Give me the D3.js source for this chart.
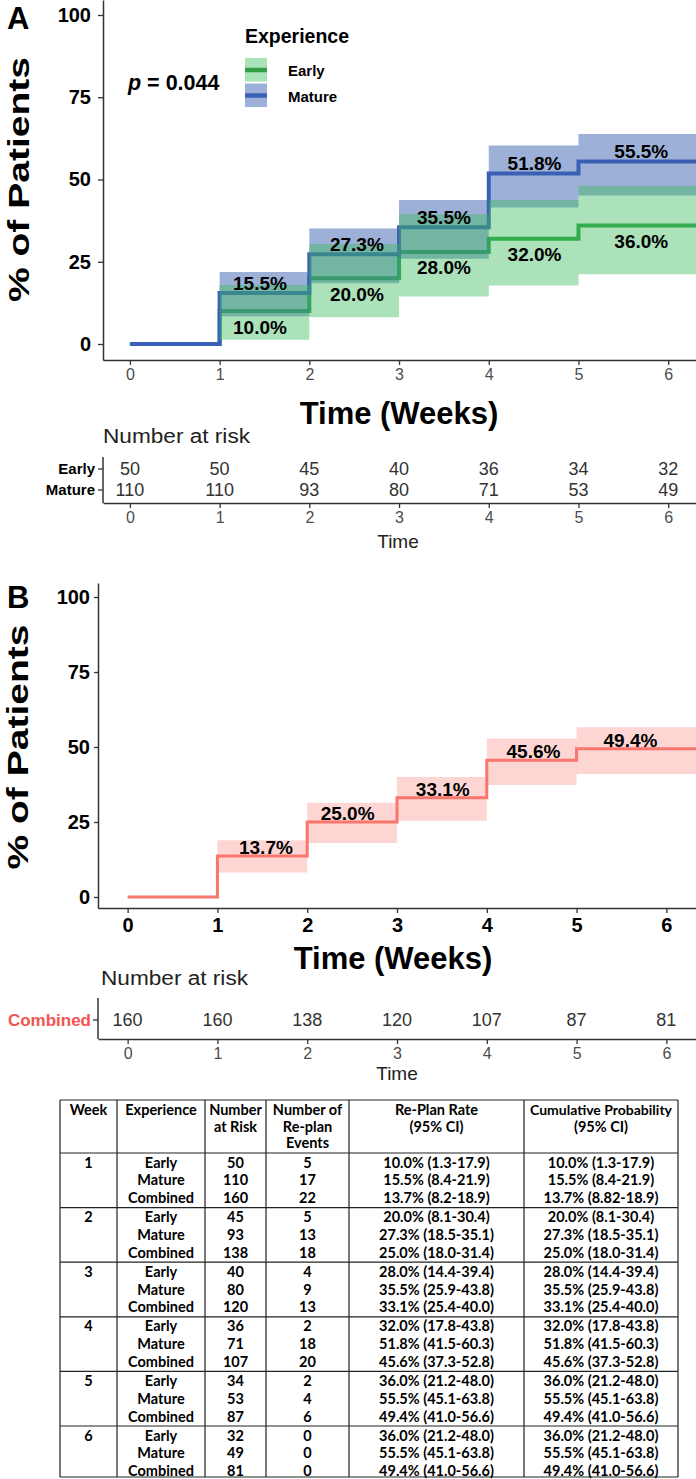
<!DOCTYPE html>
<html><head><meta charset="utf-8">
<script src="https://cdn.jsdelivr.net/npm/d3@7"></script>
<style>body{margin:0;background:#fff}svg{display:block}</style>
</head><body>
<script>
// ---------- data ----------
const weeks = [0, 1, 2, 3, 4, 5, 6];
const stepTimes = [0, 1, 2, 3, 4, 5];
const earlyPct = [0, 10.0, 20.0, 28.0, 32.0, 36.0];
const earlyLo = [0, 1.3, 8.1, 14.4, 17.8, 21.2];
const earlyHi = [0, 17.9, 30.4, 39.4, 43.8, 48.0];
const maturePct = [0, 15.5, 27.3, 35.5, 51.8, 55.5];
const matureLo = [0, 8.4, 18.5, 25.9, 41.5, 45.1];
const matureHi = [0, 21.9, 35.1, 43.8, 60.3, 63.8];
const combinedPct = [0, 13.7, 25.0, 33.1, 45.6, 49.4];
const combinedLo = [0, 8.2, 18.0, 25.4, 37.3, 41.0];
const combinedHi = [0, 18.9, 31.4, 40.0, 52.8, 56.6];
const yTicks = [0, 25, 50, 75, 100];
const labelWeeksA = [1.45, 2.53, 3.5, 4.51, 5.7];
const labelWeeksB = [1.54, 2.45, 3.51, 4.52, 5.6];
const riskRowsA = ["Early", "Mature"];
const riskEarly = [50, 50, 45, 40, 36, 34, 32];
const riskMature = [110, 110, 93, 80, 71, 53, 49];
const riskCombined = [160, 160, 138, 120, 107, 87, 81];
const pValueText = "0.044";

const tableHeaders = [["Week"], ["Experience"], ["Number", "at Risk"], ["Number of", "Re-plan", "Events"], ["Re-Plan Rate", "(95% CI)"], ["Cumulative Probability", "(95% CI)"]];
const tableWeeks = [1, 2, 3, 4, 5, 6];
const tableGroups = ["Early", "Mature", "Combined"];
const tableAtRisk = [[50, 110, 160], [45, 93, 138], [40, 80, 120], [36, 71, 107], [34, 53, 87], [32, 49, 81]];
const tableEvents = [[5, 17, 22], [5, 13, 18], [4, 9, 13], [2, 18, 20], [2, 4, 6], [0, 0, 0]];
const tableRate = [
  ["10.0% (1.3-17.9)", "15.5% (8.4-21.9)", "13.7% (8.2-18.9)"],
  ["20.0% (8.1-30.4)", "27.3% (18.5-35.1)", "25.0% (18.0-31.4)"],
  ["28.0% (14.4-39.4)", "35.5% (25.9-43.8)", "33.1% (25.4-40.0)"],
  ["32.0% (17.8-43.8)", "51.8% (41.5-60.3)", "45.6% (37.3-52.8)"],
  ["36.0% (21.2-48.0)", "55.5% (45.1-63.8)", "49.4% (41.0-56.6)"],
  ["36.0% (21.2-48.0)", "55.5% (45.1-63.8)", "49.4% (41.0-56.6)"]];
const tableCum = [
  ["10.0% (1.3-17.9)", "15.5% (8.4-21.9)", "13.7% (8.82-18.9)"],
  ["20.0% (8.1-30.4)", "27.3% (18.5-35.1)", "25.0% (18.0-31.4)"],
  ["28.0% (14.4-39.4)", "35.5% (25.9-43.8)", "33.1% (25.4-40.0)"],
  ["32.0% (17.8-43.8)", "51.8% (41.5-60.3)", "45.6% (37.3-52.8)"],
  ["36.0% (21.2-48.0)", "55.5% (45.1-63.8)", "49.4% (41.0-56.6)"],
  ["36.0% (21.2-48.0)", "55.5% (45.1-63.8)", "49.4% (41.0-56.6)"]];

// ---------- styles ----------
const C = {
  earlyLine: "#2f9e44", earlyBand: "#3dbb5e",
  matureLine: "#3a5fb6", matureBand: "#3b62b0",
  combLine: "#f8766d", combBand: "#f8766d", combText: "#f2554f",
  axis: "#333", tickTxt: "#4d4d4d"
};

const W = 696, H = 1479;
const svg = d3.select("body").append("svg").attr("width", W).attr("height", H)
  .style("font-family", "'Liberation Sans', Arial, sans-serif");

function txt(g, x, cy, s, o = {}) {
  const fs = o.size || 16;
  const t = g.append("text").attr("x", x).attr("y", cy + 0.358 * fs)
    .attr("font-size", fs).attr("font-weight", o.bold ? "bold" : "normal")
    .attr("fill", o.fill || "#000").attr("text-anchor", o.anchor || "middle").text(s);
  if (o.len) t.attr("textLength", o.len).attr("lengthAdjust", "spacingAndGlyphs");
  if (o.family) t.style("font-family", o.family);
  return t;
}
const fmt = v => d3.format(".1f")(v) + "%";
const intFmt = d3.format("d");

function stepPts(vals, end) {
  const p = stepTimes.map((t, i) => [t, vals[i]]);
  p.push([end, vals[vals.length - 1]]);
  return p;
}
function bandPts(lo, hi, end) {
  const p = stepTimes.map((t, i) => ({ t, lo: lo[i], hi: hi[i] })).filter(d => d.hi > d.lo);
  p.push({ t: end, lo: lo[lo.length - 1], hi: hi[hi.length - 1] });
  return p;
}
function styleAxis(g, o) {
  g.select(".domain").attr("stroke", C.axis).attr("stroke-width", 1.5);
  g.selectAll(".tick line").attr("stroke", C.axis).attr("stroke-width", 1.3);
  g.selectAll(".tick text").attr("font-size", o.size).attr("font-weight", o.bold ? "bold" : "normal")
    .attr("fill", o.fill || "#000").style("font-family", "'Liberation Sans', Arial, sans-serif");
}

// ================= PANEL A =================
const xA = d3.scaleLinear().domain([-0.3, 6.31]).range([103, 696]);
const yA = d3.scaleLinear().domain([(344 - 360) / 3.29, 344 / 3.29]).range([360, 0]);
const endA = xA.domain()[1];
const gA = svg.append("g");

const lineA = d3.line().x(d => xA(d[0])).y(d => yA(d[1])).curve(d3.curveStepAfter);
const areaA = d3.area().x(d => xA(d.t)).y0(d => yA(d.lo)).y1(d => yA(d.hi)).curve(d3.curveStepAfter);

gA.append("path").attr("d", lineA(stepPts(earlyPct, endA))).attr("fill", "none")
  .attr("stroke", C.earlyLine).attr("stroke-width", 4);
gA.append("path").attr("d", lineA(stepPts(maturePct, endA))).attr("fill", "none")
  .attr("stroke", C.matureLine).attr("stroke-width", 4);
gA.append("path").attr("d", areaA(bandPts(matureLo, matureHi, endA))).attr("fill", C.matureBand).attr("fill-opacity", 0.5);
gA.append("path").attr("d", areaA(bandPts(earlyLo, earlyHi, endA))).attr("fill", C.earlyBand).attr("fill-opacity", 0.43);

labelWeeksA.forEach((w, i) => {
  txt(gA, xA(w), yA(maturePct[i + 1] + 3.1), fmt(maturePct[i + 1]), { size: 19, bold: true });
  txt(gA, xA(w), yA(earlyPct[i + 1] - 4.8), fmt(earlyPct[i + 1]), { size: 19, bold: true });
});

const axA = gA.append("g").attr("transform", `translate(0,${yA.range()[0]})`)
  .call(d3.axisBottom(xA).tickValues(weeks).tickFormat(intFmt).tickSize(5).tickSizeOuter(0).tickPadding(3.5));
styleAxis(axA, { size: 16, fill: C.tickTxt });
const ayA = gA.append("g").attr("transform", `translate(${xA.range()[0]},0)`)
  .call(d3.axisLeft(yA).tickValues(yTicks).tickFormat(intFmt).tickSize(5).tickSizeOuter(0).tickPadding(7));
styleAxis(ayA, { size: 20, bold: true });

// titles
gA.append("text").attr("x", 7).attr("y", 29).attr("font-size", 31).attr("font-weight", "bold").text("A");
gA.append("text").attr("transform", `translate(29,${yA(50)}) rotate(-90)`).attr("text-anchor", "middle")
  .attr("font-size", 30).attr("font-weight", "bold").attr("textLength", 245).attr("lengthAdjust", "spacingAndGlyphs")
  .text("% of Patients");
gA.append("text").attr("x", 399).attr("y", 424).attr("text-anchor", "middle")
  .attr("font-size", 31).attr("font-weight", "bold").text("Time (Weeks)");

// p value
const pt = gA.append("text").attr("x", 128).attr("y", 90).attr("font-size", 21.5).attr("font-weight", "bold");
pt.append("tspan").attr("font-style", "italic").text("p");
pt.append("tspan").text(" = " + pValueText);

// legend
const lg = gA.append("g");
lg.append("text").attr("x", 245).attr("y", 43).attr("font-size", 19.5).attr("font-weight", "bold").text("Experience");
[{ name: "Early", line: C.earlyLine, band: C.earlyBand, op: 0.43, y: 58 },
 { name: "Mature", line: C.matureLine, band: C.matureBand, op: 0.5, y: 83.5 }].forEach(k => {
  lg.append("rect").attr("x", 245).attr("y", k.y).attr("width", 22).attr("height", 23.5)
    .attr("fill", k.band).attr("fill-opacity", k.op);
  lg.append("line").attr("x1", 245).attr("x2", 267).attr("y1", k.y + 12).attr("y2", k.y + 12)
    .attr("stroke", k.line).attr("stroke-width", 4.5);
  txt(lg, 288, k.y + 13, k.name, { size: 15, bold: true, anchor: "start" });
});

// risk table A
const rA = svg.append("g");
rA.append("text").attr("x", 103).attr("y", 443).attr("font-size", 20).attr("fill", "#222")
  .attr("textLength", 147).attr("lengthAdjust", "spacingAndGlyphs").text("Number at risk");
const rowYA = d3.scalePoint().domain(riskRowsA).range([469, 490]);
rA.append("line").attr("x1", 103).attr("x2", 103).attr("y1", 457).attr("y2", 503).attr("stroke", C.axis).attr("stroke-width", 1.5);
riskRowsA.forEach(r => {
  rA.append("line").attr("x1", 98).attr("x2", 103).attr("y1", rowYA(r)).attr("y2", rowYA(r)).attr("stroke", C.axis).attr("stroke-width", 1.3);
  txt(rA, 95, rowYA(r), r, { size: 15, bold: true, anchor: "end" });
});
weeks.forEach((w, i) => {
  txt(rA, xA(w), rowYA("Early"), riskEarly[i], { size: 18, fill: "#333" });
  txt(rA, xA(w), rowYA("Mature"), riskMature[i], { size: 18, fill: "#333" });
});
const rxA = rA.append("g").attr("transform", "translate(0,503)")
  .call(d3.axisBottom(xA).tickValues(weeks).tickFormat(intFmt).tickSize(5).tickSizeOuter(0).tickPadding(3.5));
styleAxis(rxA, { size: 16, fill: C.tickTxt });
txt(rA, 398, 541, "Time", { size: 19, fill: "#222" });

// ================= PANEL B =================
const xB = d3.scaleLinear().domain([-0.33, 6.33]).range([98, 696]);
const yB = d3.scaleLinear().domain([(897 - 908) / 3, (897 - 583) / 3]).range([908, 583]);
const endB = xB.domain()[1];
const gB = svg.append("g");
const lineB = d3.line().x(d => xB(d[0])).y(d => yB(d[1])).curve(d3.curveStepAfter);
const areaB = d3.area().x(d => xB(d.t)).y0(d => yB(d.lo)).y1(d => yB(d.hi)).curve(d3.curveStepAfter);

gB.append("path").attr("d", areaB(bandPts(combinedLo, combinedHi, endB))).attr("fill", C.combBand).attr("fill-opacity", 0.3);
gB.append("path").attr("d", lineB(stepPts(combinedPct, endB))).attr("fill", "none")
  .attr("stroke", C.combLine).attr("stroke-width", 3);
labelWeeksB.forEach((w, i) => {
  txt(gB, xB(w), yB(combinedPct[i + 1] + 3.0), fmt(combinedPct[i + 1]), { size: 19, bold: true });
});

const axB = gB.append("g").attr("transform", `translate(0,${yB.range()[0]})`)
  .call(d3.axisBottom(xB).tickValues(weeks).tickFormat(intFmt).tickSize(5).tickSizeOuter(0).tickPadding(5));
styleAxis(axB, { size: 20, bold: true });
const ayB = gB.append("g").attr("transform", `translate(${xB.range()[0]},0)`)
  .call(d3.axisLeft(yB).tickValues(yTicks).tickFormat(intFmt).tickSize(4).tickSizeOuter(0).tickPadding(4));
styleAxis(ayB, { size: 20, bold: true });

gB.append("text").attr("x", 7).attr("y", 608).attr("font-size", 31).attr("font-weight", "bold").text("B");
gB.append("text").attr("transform", `translate(28,${yB(50)}) rotate(-90)`).attr("text-anchor", "middle")
  .attr("font-size", 30).attr("font-weight", "bold").attr("textLength", 245).attr("lengthAdjust", "spacingAndGlyphs")
  .text("% of Patients");
gB.append("text").attr("x", 393).attr("y", 969).attr("text-anchor", "middle")
  .attr("font-size", 31).attr("font-weight", "bold").text("Time (Weeks)");

// risk table B
const rB = svg.append("g");
rB.append("text").attr("x", 101).attr("y", 985).attr("font-size", 20).attr("fill", "#222")
  .attr("textLength", 147).attr("lengthAdjust", "spacingAndGlyphs").text("Number at risk");
rB.append("line").attr("x1", 98).attr("x2", 98).attr("y1", 998).attr("y2", 1039).attr("stroke", C.axis).attr("stroke-width", 1.5);
rB.append("line").attr("x1", 93).attr("x2", 98).attr("y1", 1020).attr("y2", 1020).attr("stroke", C.axis).attr("stroke-width", 1.3);
txt(rB, 91, 1020, "Combined", { size: 17, bold: true, anchor: "end", fill: C.combText });
weeks.forEach((w, i) => txt(rB, xB(w), 1020, riskCombined[i], { size: 18, fill: "#333" }));
const rxB = rB.append("g").attr("transform", "translate(0,1039)")
  .call(d3.axisBottom(xB).tickValues(weeks).tickFormat(intFmt).tickSize(5).tickSizeOuter(0).tickPadding(4));
styleAxis(rxB, { size: 16, fill: C.tickTxt });
txt(rB, 397, 1073, "Time", { size: 19, fill: "#222" });

// ================= TABLE =================
const tg = svg.append("g").style("font-family", "Lato, 'Open Sans', sans-serif");
const colEdges = [60, 117, 205, 266, 349, 524, 678];
const tTop = 1100, hBottom = 1153, gPitch = 54.6, tBottom = 1477, rPitch = 17.8;
const groupTop = g => hBottom + g * gPitch;
const colC = i => (colEdges[i] + colEdges[i + 1]) / 2;
const tf = "Lato, sans-serif";
const tfs = 14.5;
const hLines = [tTop, hBottom].concat(tableWeeks.map((w, g) => Math.min(groupTop(g + 1), tBottom)));
hLines.forEach(y => tg.append("line").attr("x1", colEdges[0]).attr("x2", colEdges[6]).attr("y1", y).attr("y2", y)
  .attr("stroke", "#222").attr("stroke-width", 1.2));
colEdges.forEach(x => tg.append("line").attr("x1", x).attr("x2", x).attr("y1", tTop).attr("y2", tBottom)
  .attr("stroke", "#222").attr("stroke-width", 1.2));
tableHeaders.forEach((lines, c) => lines.forEach((s, li) =>
  txt(tg, colC(c), 1110 + li * 16.5, s, { size: c === 5 && li === 0 ? 14 : tfs, bold: true, family: tf })));
tableWeeks.forEach((w, g) => {
  const y0 = groupTop(g) + 9.5;
  txt(tg, colC(0), y0, w, { size: tfs, bold: true, family: tf });
  tableGroups.forEach((grp, r) => {
    const y = y0 + r * rPitch;
    txt(tg, colC(1), y, grp, { size: tfs, bold: true, family: tf });
    txt(tg, colC(2), y, tableAtRisk[g][r], { size: tfs, bold: true, family: tf });
    txt(tg, colC(3), y, tableEvents[g][r], { size: tfs, bold: true, family: tf });
    txt(tg, colC(4), y, tableRate[g][r], { size: tfs, bold: true, family: tf });
    txt(tg, colC(5), y, tableCum[g][r], { size: tfs, bold: true, family: tf });
  });
});
</script>
</body></html>
